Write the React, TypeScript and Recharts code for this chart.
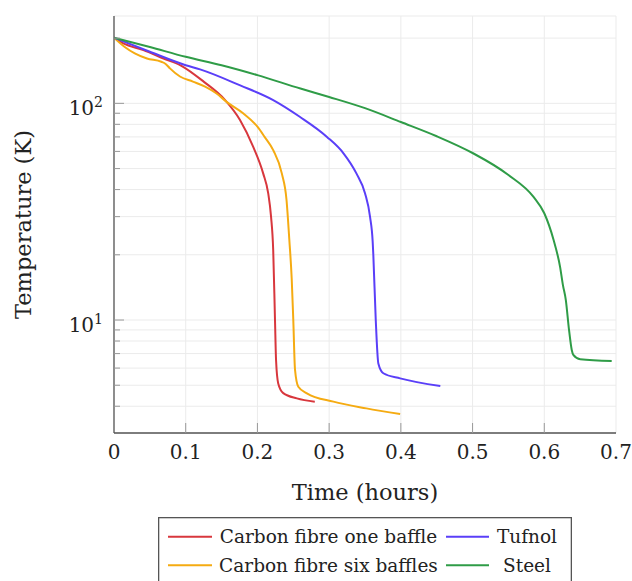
import React from "react";
import { ComposedChart, Line, XAxis, YAxis, CartesianGrid, Label } from "recharts";

// temperature (K) vs time (hours)
const carbonOne = [
  { t: 0, T: 201 }, { t: 0.013, T: 189 }, { t: 0.041, T: 176 }, { t: 0.069, T: 161 },
  { t: 0.094, T: 149 }, { t: 0.125, T: 126 }, { t: 0.155, T: 103.5 }, { t: 0.1757, T: 83.8 },
  { t: 0.194, T: 63.1 }, { t: 0.208, T: 47.5 }, { t: 0.215, T: 38.5 },
  { t: 0.219, T: 30 }, { t: 0.222, T: 21 }, { t: 0.2245, T: 10 }, { t: 0.226, T: 6.5 },
  { t: 0.229, T: 5.1 }, { t: 0.236, T: 4.6 }, { t: 0.255, T: 4.35 }, { t: 0.28, T: 4.2 },
];

const carbonSix = [
  { t: 0, T: 201 }, { t: 0.015, T: 182 }, { t: 0.029, T: 170 }, { t: 0.046, T: 161 },
  { t: 0.066, T: 155.6 }, { t: 0.072, T: 152 }, { t: 0.078, T: 145 }, { t: 0.092, T: 133 },
  { t: 0.11, T: 126 }, { t: 0.127, T: 119.4 }, { t: 0.143, T: 111 }, { t: 0.157, T: 101.6 },
  { t: 0.18, T: 90 }, { t: 0.2, T: 78 }, { t: 0.21, T: 70 }, { t: 0.222, T: 60.8 },
  { t: 0.234, T: 47.5 }, { t: 0.2405, T: 36 }, { t: 0.2445, T: 23.4 }, { t: 0.2478, T: 15.5 },
  { t: 0.25, T: 10 }, { t: 0.2524, T: 5.9 }, { t: 0.257, T: 4.92 }, { t: 0.269, T: 4.59 },
  { t: 0.306, T: 4.2 }, { t: 0.352, T: 3.91 }, { t: 0.399, T: 3.68 },
];

const tufnol = [
  { t: 0, T: 201 }, { t: 0.05, T: 173 }, { t: 0.1, T: 150 }, { t: 0.12, T: 143.5 },
  { t: 0.176, T: 121 }, { t: 0.222, T: 103.5 }, { t: 0.259, T: 86.7 }, { t: 0.297, T: 70 },
  { t: 0.32, T: 58.8 }, { t: 0.338, T: 47.5 }, { t: 0.35, T: 38.5 }, { t: 0.357, T: 30 },
  { t: 0.3607, T: 23 }, { t: 0.3616, T: 20 }, { t: 0.365, T: 10 }, { t: 0.3686, T: 6.3 },
  { t: 0.3756, T: 5.68 }, { t: 0.399, T: 5.38 }, { t: 0.455, T: 4.96 },
];

const steel = [
  { t: 0, T: 201 }, { t: 0.05, T: 182 }, { t: 0.1, T: 164 }, { t: 0.15, T: 150 },
  { t: 0.2, T: 135 }, { t: 0.26, T: 117 }, { t: 0.3, T: 107 }, { t: 0.35, T: 95 },
  { t: 0.4, T: 82 }, { t: 0.45, T: 70.5 }, { t: 0.5, T: 59 }, { t: 0.55, T: 46.7 },
  { t: 0.585, T: 37 }, { t: 0.6, T: 31.1 }, { t: 0.613, T: 23.4 }, { t: 0.622, T: 17.6 },
  { t: 0.626, T: 14.5 }, { t: 0.63, T: 12.4 }, { t: 0.6345, T: 9 }, { t: 0.6383, T: 7.27 },
  { t: 0.6405, T: 6.9 }, { t: 0.65, T: 6.59 }, { t: 0.694, T: 6.47 },
];

const xTicks = [0, 0.1, 0.2, 0.3, 0.4, 0.5, 0.6, 0.7];
const yTicks = [4, 5, 6, 7, 8, 9, 10, 20, 30, 40, 50, 60, 70, 80, 90, 100, 200];
const yMajor = [10, 100];

const series = [
  { name: "Carbon fibre one baffle", data: carbonOne, color: "#d8373d" },
  { name: "Carbon fibre six baffles", data: carbonSix, color: "#f5ab12" },
  { name: "Tufnol", data: tufnol, color: "#5a3ff8" },
  { name: "Steel", data: steel, color: "#2f9c47" },
];

const FONT = "'DejaVu Serif', 'Liberation Serif', serif";
const FRAME = "#555";
const TICK = "#999";

const isMajor = (v: number) => yMajor.includes(v);
const isEdgeX = (v: number) => v === 0 || v === 0.7;

function LeftTick(props: any) {
  const { x, y, payload } = props;
  const v = payload.value;
  const major = isMajor(v);
  return (
    <g>
      <line x1={x} x2={x + (major ? 10 : 6)} y1={y} y2={y} stroke={TICK} />
      {major && (
        <text x={x - 11} y={y + 11.5} textAnchor="end" fontFamily={FONT} fontSize={20} fill="#222">
          10
          <tspan dy={-8} fontSize={14}>{Math.round(Math.log10(v))}</tspan>
        </text>
      )}
    </g>
  );
}

function RightTick(props: any) {
  const { x, y, payload } = props;
  const len = isMajor(payload.value) ? 10 : 6;
  return <line x1={x} x2={x - len} y1={y} y2={y} stroke={TICK} />;
}

function BottomTick(props: any) {
  const { x, y, payload } = props;
  const v = payload.value;
  return (
    <g>
      {!isEdgeX(v) && <line x1={x} x2={x} y1={y} y2={y - 10} stroke={TICK} />}
      <text x={x} y={y + 26} textAnchor="middle" fontFamily={FONT} fontSize={20} fill="#222">
        {v === 0 ? "0" : v.toFixed(1)}
      </text>
    </g>
  );
}

function TopTick(props: any) {
  const { x, y, payload } = props;
  if (isEdgeX(payload.value)) return <g />;
  return <line x1={x} x2={x} y1={y} y2={y + 10} stroke={TICK} />;
}

function Legend2() {
  return (
    <svg
      width={414}
      height={70}
      style={{ position: "absolute", left: 158, top: 517, background: "#fff" }}
    >
      <rect x={0.65} y={0.65} width={412.7} height={80} fill="#fff" stroke={FRAME} strokeWidth={1.3} />
      {[0, 1].map((row) => {
        const y = row === 0 ? 19.7 : 48.3;
        const left = series[row];
        const right = series[row + 2];
        return (
          <g key={row}>
            <line x1={10} x2={54} y1={y} y2={y} stroke={left.color} strokeWidth={2} />
            <text x={170.5} y={y + 6.5} textAnchor="middle" fontFamily={FONT} fontSize={18.5} fill="#222">
              {left.name}
            </text>
            <line x1={288} x2={331} y1={y} y2={y} stroke={right.color} strokeWidth={2} />
            <text x={369} y={y + 6.5} textAnchor="middle" fontFamily={FONT} fontSize={18.5} fill="#222">
              {right.name}
            </text>
          </g>
        );
      })}
    </svg>
  );
}

export default function App() {
  return (
    <div
      style={{
        position: "absolute",
        left: 0,
        top: 0,
        width: 632,
        height: 581,
        overflow: "hidden",
        background: "#fff",
      }}
    >
      <ComposedChart width={632} height={510} margin={{ top: 16, right: 16, bottom: 0, left: 0 }}>
        <CartesianGrid stroke="#ebebeb" xAxisId="b" yAxisId="l" />
        <XAxis
          xAxisId="b"
          type="number"
          dataKey="t"
          domain={[0, 0.7]}
          ticks={xTicks}
          allowDataOverflow
          height={77}
          tickSize={0}
          tickMargin={0}
          tickLine={false}
          axisLine={{ stroke: FRAME, strokeWidth: 1.3 }}
          tick={<BottomTick />}
          interval={0}
        >
          <Label
            content={(p: any) => {
              const vb = p.viewBox;
              return (
                <text x={vb.x + vb.width / 2} y={vb.y + 67} textAnchor="middle" fontFamily={FONT} fontSize={22.5} fill="#222">
                  Time (hours)
                </text>
              );
            }}
          />
        </XAxis>
        <XAxis
          xAxisId="t"
          orientation="top"
          type="number"
          domain={[0, 0.7]}
          ticks={xTicks}
          allowDataOverflow
          height={0}
          tickSize={0}
          tickMargin={0}
          tickLine={false}
          axisLine={{ stroke: FRAME, strokeWidth: 1.3 }}
          tick={<TopTick />}
          interval={0}
        />
        <YAxis
          yAxisId="l"
          scale="log"
          type="number"
          domain={[3.01, 253]}
          ticks={yTicks}
          allowDataOverflow
          width={114}
          tickSize={0}
          tickMargin={0}
          tickLine={false}
          axisLine={{ stroke: FRAME, strokeWidth: 1.3 }}
          tick={<LeftTick />}
          interval={0}
        >
          <Label
            content={(p: any) => {
              const vb = p.viewBox;
              const cy = vb.y + vb.height / 2;
              return (
                <text x={31} y={cy} transform={`rotate(-90, 31, ${cy})`} textAnchor="middle" fontFamily={FONT} fontSize={22.5} fill="#222">
                  Temperature (K)
                </text>
              );
            }}
          />
        </YAxis>
        <YAxis
          yAxisId="r"
          orientation="right"
          scale="log"
          type="number"
          domain={[3.01, 253]}
          ticks={yTicks}
          allowDataOverflow
          width={0}
          tickSize={0}
          tickMargin={0}
          tickLine={false}
          axisLine={{ stroke: FRAME, strokeWidth: 1.3 }}
          tick={<RightTick />}
          interval={0}
        />
        {series.map((s) => (
          <Line
            key={s.name}
            data={s.data}
            dataKey="T"
            xAxisId="b"
            yAxisId="l"
            type="monotone"
            stroke={s.color}
            strokeWidth={2}
            dot={false}
            isAnimationActive={false}
            name={s.name}
          />
        ))}
      </ComposedChart>
      <Legend2 />
    </div>
  );
}
